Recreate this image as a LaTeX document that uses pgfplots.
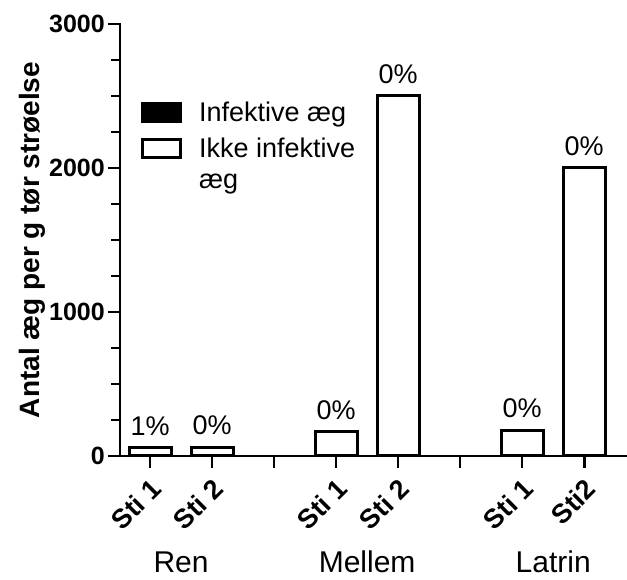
\documentclass[border=0pt]{standalone}
\usepackage{pgfplots}
\pgfplotsset{compat=1.18}
\usepackage{fontspec}
\setmainfont{Liberation Sans}
\begin{document}
\begin{tikzpicture}
\useasboundingbox (-120pt,-124pt) rectangle (507pt,456pt);
\begin{axis}[
  scale only axis, width=507pt, height=432pt,
  xmin=-0.484, xmax=7.69, ymin=0, ymax=3000,
  axis lines*=left,
  axis line style={line width=2.6pt, line cap=rect},
  tick style={black, line width=2.6pt},
  minor tick style={black, line width=2.6pt},
  tick align=outside,
  major tick length=12pt, minor tick length=9pt,
  xtick={0,1,2,3,4,5,6,7},
  xticklabels={Sti 1,Sti 2,,Sti 1,Sti 2,,Sti 1,Sti2},
  x tick label style={font=\bfseries\fontsize{27}{27}\selectfont, rotate=45, anchor=north east, inner sep=2pt, yshift=-4pt, xshift=-5pt},
  ytick={0,1000,2000,3000},
  minor y tick num=3,
  yticklabel={\bfseries\fontsize{25}{25}\selectfont\pgfmathprintnumber[1000 sep={}]{\tick}},
  /pgf/number format/assume math mode=true,
  yticklabel style={inner sep=1pt, xshift=-2pt},
  ylabel={\bfseries Antal æg per g tør strøelse},
  ylabel style={font=\fontsize{28}{28}\selectfont, at={(-88pt,0.5)}, anchor=center},
  ybar, bar shift=0pt, bar width=42pt,
  clip=false,
  legend style={draw=none, fill=none, at={(21pt,356pt)}, anchor=north west,
    font=\fontsize{27}{27}\selectfont, cells={anchor=west},
    nodes={inner sep=2pt}, row sep=11pt, column sep=15pt, inner sep=0pt},
  legend image code/.code={\draw[#1, line width=3pt] (0pt,-9pt) rectangle (38pt,9pt);},
]
\addplot[fill=black, draw=black, line width=3pt] table[x=x, y=y] {
x y
0 0.6
1 0
3 0
4 0
6 0
7 0
};
\addlegendentry{Infektive æg}
\addplot[fill=white, draw=black, line width=3pt,
  nodes near coords, point meta=explicit symbolic,
  every node near coord/.append style={font=\fontsize{27}{27}\selectfont, anchor=south, yshift=7pt}]
  table[x=x, y=y, meta=m] {
x y m
0 62 1\%
1 62 0\%
3 167 0\%
4 2500 0\%
6 180 0\%
7 2000 0\%
};
\addlegendentry{Ikke infektive}
\addlegendimage{draw=none, fill=none, legend image code/.code={\path[draw=none, fill=none] (0pt,-9pt) rectangle (38pt,9pt);}}
\addlegendentry{æg}
\node[font=\fontsize{30}{30}\selectfont] at ([yshift=-106pt]axis cs:0.5,0) {Ren};
\node[font=\fontsize{30}{30}\selectfont] at ([yshift=-106pt]axis cs:3.5,0) {Mellem};
\node[font=\fontsize{30}{30}\selectfont] at ([yshift=-106pt]axis cs:6.5,0) {Latrin};
\end{axis}
\end{tikzpicture}
\end{document}
